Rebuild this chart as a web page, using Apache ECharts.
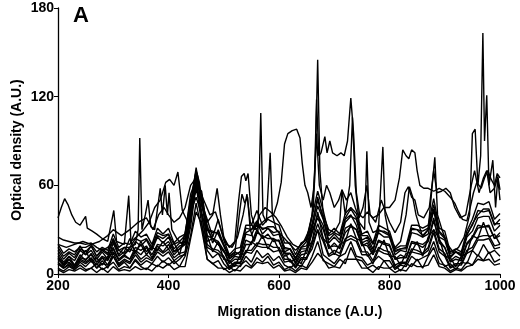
<!DOCTYPE html>
<html>
<head>
<meta charset="utf-8">
<script src="https://cdn.jsdelivr.net/npm/echarts@6/dist/echarts.min.js"></script>
<style>html,body{margin:0;padding:0;background:#fff}#c{width:520px;height:329px}</style>
</head>
<body>
<div id="c"></div>
<script>
// Migration distance (A.U.) sample positions for the band traces
var distance = [200,210,220,230,240,250,260,270,280,290,
  300,310,320,330,340,350,360,370,380,390,
  400,410,420,430,440,450,460,470,480,490,
  500,510,520,530,540,550,560,570,580,590,
  600,610,620,630,640,650,660,670,680,690,
  700,710,720,730,740,750,760,770,780,790,
  800,810,820,830,840,850,860,870,880,890,
  900,910,920,930,940,950,960,970,980,990,1000];

// Optical density (A.U.) of the densely overlapping traces
var trace1 = [4,2,5,3,6,3,4,7,3,5, 8,3,5,4,9,5,3,7,5,9, 6,9,5,12,26,48,30,10,7,9, 3,5,2,6,9,5,11,8,12,6, 8,3,5,2,6,4,12,22,9,7, 5,10,7,18,10,9,4,6,3,9, 4,6,2,7,5,10,4,12,18,7, 6,2,4,3,8,6,13,9,15,8, 10];
var trace2 = [7,4,6,3,8,5,9,4,7,6, 12,5,8,4,10,6,9,7,12,8, 11,7,10,14,32,60,34,16,11,14, 7,3,6,5,12,8,16,11,14,9, 12,6,4,7,5,11,17,30,13,10, 7,12,14,22,12,11,6,8,12,9, 9,3,6,5,12,9,11,13,22,11, 5,7,3,8,7,16,12,20,14,16, 12];
var trace3 = [10,6,8,5,11,16,8,11,6,12, 18,9,12,10,16,13,18,11,19,15, 20,13,17,22,38,64,42,26,15,22, 10,9,5,13,14,22,19,26,17,24, 16,15,8,10,7,17,22,42,24,20, 13,20,22,34,24,22,12,15,16,23, 12,12,6,14,15,22,12,25,30,24, 12,11,5,12,14,26,24,35,25,27, 20];
var trace4 = [12,7,10,6,13,9,14,8,12,10, 15,10,13,17,15,20,13,18,16,22, 17,21,13,28,50,62,52,22,24,20, 16,8,12,11,23,21,30,24,27,22, 23,12,14,8,15,16,29,40,33,17, 21,17,31,33,30,19,21,13,23,21, 20,10,13,11,22,21,20,23,38,21, 18,9,12,10,21,25,33,32,33,24, 28];
var trace5 = [16,10,14,11,17,15,19,12,16,13, 23,13,18,15,22,19,23,16,25,21, 25,17,21,22,44,70,46,33,21,30, 20,12,15,13,27,26,35,27,31,26, 27,15,17,10,18,19,33,52,38,21, 25,21,35,39,37,23,25,17,28,25, 25,13,16,15,28,27,25,27,43,25, 23,11,15,12,25,29,38,39,39,29, 33];
var trace6 = [14,8,12,9,16,13,16,10,15,10, 21,12,15,24,14,22,15,19,28,26, 27,15,19,20,40,60,56,30,29,27, 19,10,13,15,31,30,33,31,31,28, 29,17,17,10,17,17,31,46,37,23, 27,23,37,40,33,21,23,15,29,29, 27,15,17,17,31,30,29,31,47,29, 25,12,15,13,27,33,43,42,43,33, 37];
var trace7 = [7,4,7,4,9,7,10,4,9,4, 12,6,9,7,13,8,11,9,15,12, 15,9,12,13,42,52,40,18,16,14, 11,4,7,7,15,14,19,18,18,15, 16,8,9,4,10,10,20,30,22,12, 14,12,22,24,22,13,13,7,16,14, 13,4,7,7,15,14,13,16,28,15, 12,4,6,6,14,16,23,23,24,17, 18];
var trace8 = [20,14,17,15,18,18,20,15,18,16, 27,18,21,20,29,25,27,20,31,27, 31,21,25,27,46,72,48,37,25,37, 23,13,17,18,33,33,43,33,37,35, 33,21,21,13,21,23,39,56,43,27, 31,27,41,45,41,27,29,21,33,31, 29,17,19,19,33,33,31,33,51,31, 29,15,17,15,29,37,48,47,49,37, 41];
var trace9 = [3,1,3,2,4,2,4,1,4,1, 5,2,3,2,5,3,4,2,6,4, 7,3,5,5,24,42,34,10,7,4, 4,1,3,2,6,4,8,7,8,4, 6,2,3,1,4,3,8,14,10,4, 5,4,10,10,10,4,4,1,5,4, 4,1,3,2,7,5,5,6,13,5, 4,1,3,2,5,6,10,9,10,6, 7];
var trace10 = [11,6,12,6,11,10,13,8,11,9, 17,10,13,10,18,16,19,13,20,19, 22,15,17,20,47,56,50,26,24,22, 16,7,10,10,20,20,28,26,24,24, 22,14,14,7,13,14,28,38,30,18, 19,18,28,32,30,20,19,13,22,20, 19,10,11,11,21,20,18,22,36,23, 18,8,10,9,20,24,31,32,32,24, 26];
var trace11 = [8,5,10,5,10,8,11,6,11,6, 14,7,10,8,15,10,13,10,17,14, 17,11,14,15,36,62,40,20,17,16, 12,5,8,8,16,16,21,20,20,18, 18,10,10,5,11,11,22,34,24,13, 16,14,24,26,24,15,15,9,18,16, 15,6,8,8,17,16,14,18,30,17, 14,5,7,7,16,18,25,26,26,19, 20];
var trace12 = [18,12,15,13,19,13,19,12,17,14, 24,16,18,18,24,22,24,18,26,24, 27,20,22,26,54,64,54,30,28,28, 20,11,13,15,28,30,36,30,32,32, 28,18,17,11,18,22,34,50,38,26, 28,26,38,44,38,26,26,20,30,28, 26,16,17,18,30,30,26,30,44,28, 24,14,15,14,26,34,40,44,44,34, 34];

// Traces with distinct peaks, as [distance, density] readings
var peakTraceA = [[200,25],[210,23],[220,22],[230,21],[240,21],[250,20],[260,21],[270,18],[280,16],[290,18],[300,22],[310,16],[320,14],[330,18],[340,20],[345,30],[348,92],[352,30],[358,40],[363,50],[368,32],[375,30],[385,58],[389,40],[394,60],[398,40],[401,55],[406,30],[415,24],[425,20],[435,30],[445,55],[452,68],[460,50],[470,30],[480,24],[490,20],[500,15],[510,12],[520,14],[528,40],[533,54],[538,48],[543,52],[548,30],[555,22],[562,30],[567,109],[571,40],[577,35],[584,82],[588,40],[595,30],[600,28],[610,24],[620,20],[630,16],[640,20],[650,24],[660,40],[666,80],[670,145],[674,70],[680,40],[690,30],[700,28],[710,35],[714,57],[720,40],[728,60],[733,106],[738,60],[745,35],[755,30],[759,83],[763,35],[770,28],[780,30],[788,86],[792,40],[800,25],[810,18],[820,22],[830,40],[836,59],[842,52],[848,40],[860,25],[870,30],[882,79],[887,40],[895,30],[905,20],[915,15],[925,18],[935,25],[945,40],[950,95],[955,98],[960,60],[965,80],[969,163],[972,90],[976,121],[980,60],[987,77],[992,45],[996,65],[1000,50]];
var peakTraceB = [[200,38],[206,45],[212,51],[218,47],[225,40],[232,35],[240,33],[250,39],[253,31],[262,29],[270,27],[280,24],[290,22],[301,43],[306,22],[320,20],[328,53],[332,22],[345,26],[355,30],[365,35],[375,45],[385,50],[395,62],[402,64],[410,60],[417,69],[425,43],[435,35],[445,60],[450,70],[456,62],[462,45],[470,35],[480,40],[488,58],[494,40],[500,25],[510,18],[520,22],[527,50],[532,66],[537,68],[540,63],[544,68],[550,40],[558,30],[570,35],[580,38],[590,40],[597,48],[604,62],[610,88],[616,95],[624,97],[632,98],[638,92],[642,75],[647,60],[652,55],[658,45],[664,60],[668,118],[672,80],[676,82],[683,93],[687,82],[692,90],[697,82],[705,80],[712,82],[718,80],[724,90],[730,119],[735,95],[740,55],[746,40],[752,38],[760,42],[770,38],[780,40],[790,45],[800,45],[810,50],[818,65],[824,84],[830,80],[835,78],[840,84],[846,82],[850,70],[855,60],[862,58],[870,58],[880,56],[890,58],[900,56],[910,52],[918,48],[925,42],[932,37],[940,36],[946,45],[952,55],[958,62],[962,60],[966,58],[972,65],[978,70],[984,64],[990,60],[995,68],[1000,65]];
var peakTraceC = [[200,20],[215,18],[230,20],[245,22],[260,20],[275,22],[290,26],[300,30],[315,26],[330,30],[345,35],[360,38],[372,30],[382,40],[392,45],[400,40],[410,35],[420,38],[430,45],[440,60],[450,65],[458,55],[466,48],[475,40],[485,42],[495,30],[505,20],[515,18],[525,25],[535,40],[542,54],[548,35],[556,30],[565,40],[575,45],[585,42],[595,38],[605,32],[615,25],[625,20],[635,18],[645,22],[655,30],[662,45],[668,95],[673,60],[680,50],[686,60],[692,55],[700,45],[708,50],[714,57],[722,50],[730,55],[738,45],[745,38],[752,45],[759,60],[765,40],[775,35],[785,50],[790,45],[800,35],[810,28],[820,35],[828,55],[834,59],[840,52],[846,50],[852,40],[862,38],[872,45],[880,70],[886,55],[894,56],[902,58],[910,55],[918,45],[928,38],[938,40],[948,60],[954,70],[962,55],[970,65],[976,70],[982,55],[990,58],[996,66],[1000,57]];

var xTicks = [200, 400, 600, 800, 1000];
var yTicks = [0, 60, 120, 180];

var bandTraces = [trace1,trace2,trace3,trace4,trace5,trace6,trace7,trace8,trace9,trace10,trace11,trace12];
var peakTraces = [peakTraceA, peakTraceB, peakTraceC];

var FONT = '"Liberation Sans", Arial, Helvetica, sans-serif';
var lineStyle = {color:'#000', width:1.4};
var series = [];
bandTraces.forEach(function(t){
  series.push({type:'line', showSymbol:false, silent:true, lineStyle:lineStyle,
    data: t.map(function(v,i){return [distance[i], v];})});
});
peakTraces.forEach(function(t){
  series.push({type:'line', showSymbol:false, silent:true, lineStyle:lineStyle, data:t});
});

var chart = echarts.init(document.getElementById('c'), null, {renderer:'canvas'});
chart.setOption({
  animation:false,
  backgroundColor:'#fff',
  grid:{left:58, right:20, top:8, bottom:55, containLabel:false},
  xAxis:{type:'value', min:xTicks[0], max:xTicks[xTicks.length-1], interval:200,
    axisLine:{lineStyle:{color:'#000', width:1.3}},
    axisTick:{show:true, length:4, lineStyle:{color:'#000'}},
    splitLine:{show:false},
    axisLabel:{color:'#000', fontFamily:FONT, fontWeight:'bold', fontSize:14, margin:5,
      formatter:function(v){return String(v);}}},
  yAxis:{type:'value', min:yTicks[0], max:yTicks[yTicks.length-1], interval:60,
    axisLine:{show:true, lineStyle:{color:'#000', width:1.3}},
    axisTick:{show:true, length:4, lineStyle:{color:'#000'}},
    splitLine:{show:false},
    axisLabel:{color:'#000', fontFamily:FONT, fontWeight:'bold', fontSize:14, margin:4}},
  graphic:[
    {type:'text', left:73, top:5, style:{text:'A', font:'bold 22px '+FONT, fill:'#000'}},
    {type:'text', x:300, y:312, style:{text:'Migration distance (A.U.)', font:'bold 14px '+FONT, fill:'#000', textAlign:'center', textVerticalAlign:'middle'}},
    {type:'text', x:17, y:150, rotation:Math.PI/2, style:{text:'Optical density (A.U.)', font:'bold 14px '+FONT, fill:'#000', textAlign:'center', textVerticalAlign:'middle'}}
  ],
  series:series
});
</script>
</body>
</html>
